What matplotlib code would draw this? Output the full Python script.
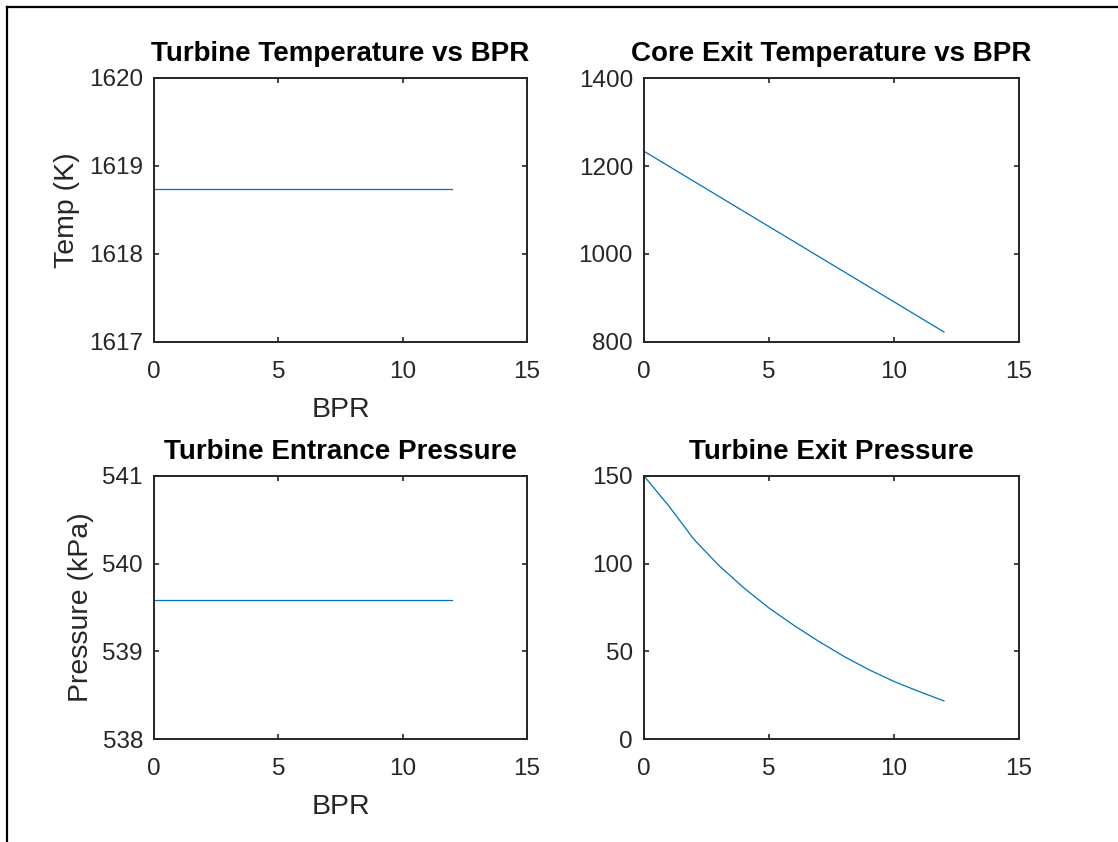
import matplotlib as mpl
import matplotlib.pyplot as plt
from matplotlib.lines import Line2D

mpl.rcParams['font.family'] = ['Liberation Sans', 'DejaVu Sans']

# data
bpr = [0, 1, 2, 3, 4, 5, 6, 7, 8, 9, 10, 11, 12]
turbine_temp = [1618.74] * 13
core_exit_temp = [1233.5, 1199.3, 1165.0, 1130.8, 1096.6, 1062.4, 1028.2,
                  993.9, 959.7, 925.5, 891.3, 857.0, 822.8]
turbine_entr_p = [539.58] * 13
turbine_exit_p = [150.0, 132.8, 113.8, 98.9, 86.1, 74.7, 64.8,
                  55.6, 47.1, 39.5, 32.8, 27.1, 21.7]

titles = ['Turbine Temperature vs BPR', 'Core Exit Temperature vs BPR',
          'Turbine Entrance Pressure', 'Turbine Exit Pressure']
series = [turbine_temp, core_exit_temp, turbine_entr_p, turbine_exit_p]
ylims = [(1617, 1620), (800, 1400), (538, 541), (0, 150)]
yticks = [[1617, 1618, 1619, 1620], [800, 1000, 1200, 1400],
          [538, 539, 540, 541], [0, 50, 100, 150]]
ylabels = ['Temp (K)', None, 'Pressure (kPa)', None]
xlabels = ['BPR', None, 'BPR', None]

W, H = 1118, 842
fig = plt.figure(figsize=(W / 100, H / 100), dpi=100)

# axes boxes in pixels: left, top, right, bottom
boxes = [(154, 78, 527, 342), (644, 78, 1019, 342),
         (154, 476, 527, 739), (644, 476, 1019, 739)]

dark = '#262626'
for i in range(4):
    l, t, r, b = boxes[i]
    ax = fig.add_axes([l / W, 1 - b / H, (r - l) / W, (b - t) / H])
    ax.plot(bpr, series[i], color='#0072BD', lw=0.9)
    ax.set_xlim(0, 15)
    ax.set_ylim(*ylims[i])
    ax.set_xticks([0, 5, 10, 15])
    ax.set_yticks(yticks[i])
    ax.tick_params(direction='in', length=3.5, width=1.2, colors=dark,
                   labelsize=17.5, top=True, right=True)
    ax.tick_params(axis='x', pad=14)
    ax.tick_params(axis='y', pad=8)
    for s in ax.spines.values():
        s.set_linewidth(1.4)
        s.set_color(dark)
    ax.set_title(titles[i], fontsize=20, fontweight='bold', pad=12)
    if xlabels[i]:
        ax.set_xlabel(xlabels[i], fontsize=20.5, color=dark, labelpad=10)
    if ylabels[i]:
        ax.set_ylabel(ylabels[i], fontsize=20.5, color=dark, labelpad=6)

# frame edge seen on the left and top of the reference
fig.add_artist(Line2D([7 / W, 7 / W], [0, 1 - 7 / H], color='black', lw=1.6,
                      transform=fig.transFigure))
fig.add_artist(Line2D([7 / W, 1], [1 - 7 / H, 1 - 7 / H], color='black', lw=1.6,
                      transform=fig.transFigure))

plt.savefig('out.png', dpi=100)
